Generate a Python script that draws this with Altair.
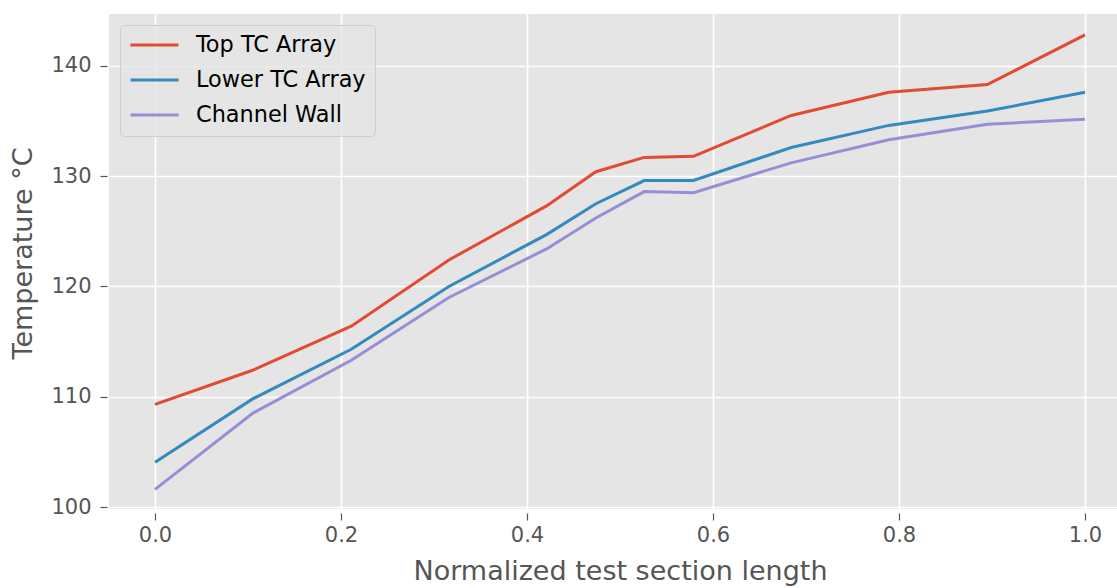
import altair as alt
import pandas as pd

# Position along the test section (normalised) and measured temperatures
positions = [0.0, 0.105, 0.211, 0.316, 0.421, 0.474, 0.526, 0.579, 0.684, 0.789, 0.895, 1.0]
top_tc = [109.3, 112.4, 116.4, 122.4, 127.3, 130.4, 131.7, 131.8, 135.5, 137.6, 138.3, 142.8]
lower_tc = [104.05, 109.8, 114.3, 120.0, 124.7, 127.5, 129.6, 129.6, 132.6, 134.6, 135.9, 137.6]
channel_wall = [101.6, 108.5, 113.3, 119.0, 123.4, 126.2, 128.6, 128.5, 131.2, 133.3, 134.7, 135.15]

series_names = ["Top TC Array", "Lower TC Array", "Channel Wall"]
series_colors = ["#E24A33", "#348ABD", "#988ED5"]

x_ticks = [0.0, 0.2, 0.4, 0.6, 0.8, 1.0]
y_ticks = [100, 110, 120, 130, 140]

rows = []
for name, values in zip(series_names, [top_tc, lower_tc, channel_wall]):
    for x, y in zip(positions, values):
        rows.append({"pos": x, "temp": y, "series": name})
df = pd.DataFrame(rows)

FONT = "DejaVu Sans"

chart = (
    alt.Chart(df)
    .mark_line(strokeWidth=3, clip=True)
    .encode(
        x=alt.X(
            "pos:Q",
            scale=alt.Scale(domain=[-0.0495, 1.0344], nice=False, zero=False),
            axis=alt.Axis(
                values=x_ticks,
                format=".1f",
                title="Normalized test section length",
                offset=4,
                tickSize=7,
                labelPadding=4,
                titleX=511,
                titleY=66,
                titleBaseline="alphabetic",
            ),
        ),
        y=alt.Y(
            "temp:Q",
            scale=alt.Scale(domain=[99.82, 144.7], nice=False, zero=False),
            axis=alt.Axis(
                values=y_ticks,
                format="d",
                title="Temperature °C",
                offset=2,
                tickSize=7,
                labelPadding=9,
                titleAngle=270,
                titleX=-84,
                titleY=239,
                titleAlign="center",
                titleBaseline="middle",
            ),
        ),
        color=alt.Color(
            "series:N",
            scale=alt.Scale(domain=series_names, range=series_colors),
            legend=alt.Legend(
                title=None,
                orient="none",
                legendX=11,
                legendY=11,
                symbolType="stroke",
                symbolSize=2304,
                symbolStrokeWidth=3,
                clipHeight=22,
                labelFont=FONT,
                labelFontSize=22.4,
                labelColor="#000000",
                labelLimit=400,
                labelOffset=16,
                rowPadding=12,
                padding=9,
                fillColor="rgba(229,229,229,0.8)",
                strokeColor="#CFCFCF",
                cornerRadius=4,
            ),
        ),
    )
    .properties(
        width=1008,
        height=495,
        background="#FFFFFF",
        autosize=alt.AutoSizeParams(type="none"),
        padding={"left": 109, "top": 14, "right": 0, "bottom": 79},
    )
    .configure_view(fill="#E5E5E5", stroke=None)
    .configure_axis(
        domain=False,
        grid=True,
        gridColor="#FFFFFF",
        gridWidth=1.6,
        tickColor="#555555",
        tickWidth=1.2,
        labelFont=FONT,
        labelFontSize=21,
        labelColor="#555555",
        titleFont=FONT,
        titleFontSize=27,
        titleColor="#555555",
        titleFontWeight="normal",
    )
)

chart.save("out.html", embed_options={"renderer": "svg", "actions": False})
